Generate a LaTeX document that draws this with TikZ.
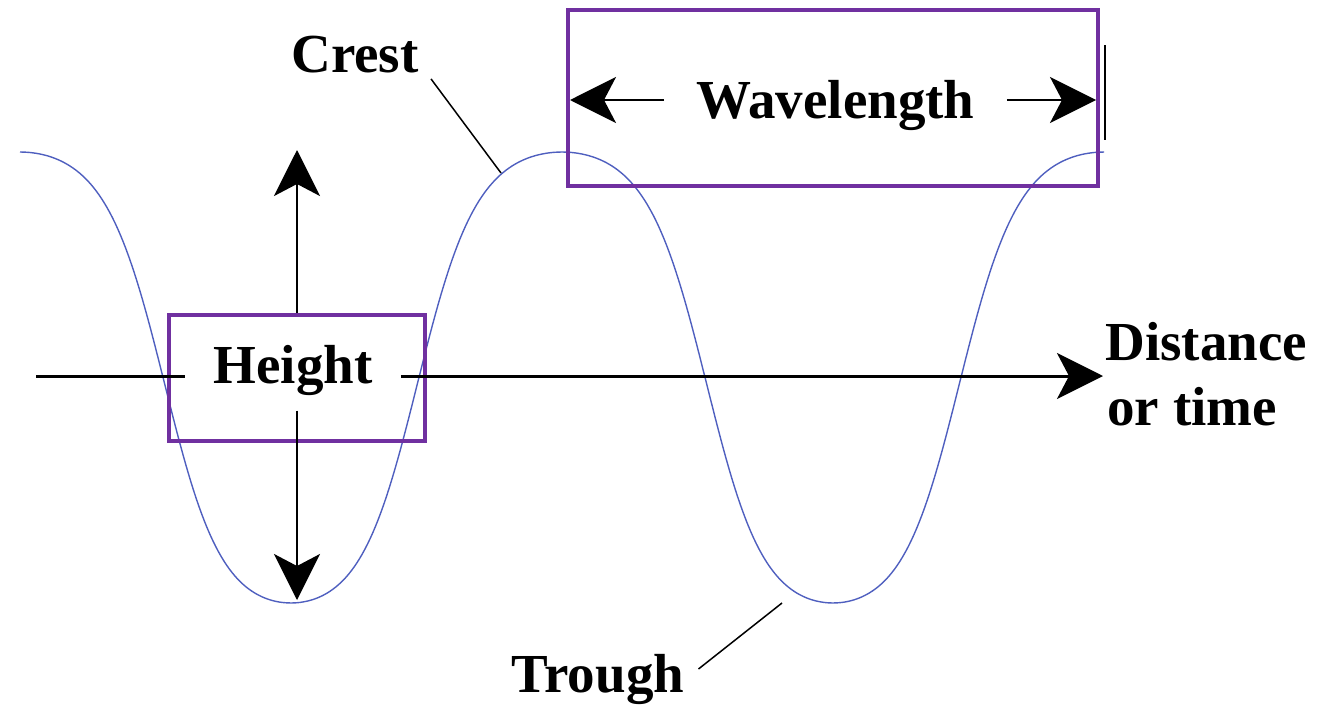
\documentclass[tikz,border=0pt]{standalone}
\usepackage{fontspec}
\setmainfont{Liberation Serif}
\usetikzlibrary{positioning,arrows.meta}
\definecolor{boxpurple}{HTML}{7030A0}
\definecolor{waveblue}{HTML}{4F5FBF}

\begin{document}
\begin{tikzpicture}[x=0.5pt,y=-0.5pt,
    lbl/.style={font=\fontsize{27.5}{32.5}\selectfont\bfseries,inner sep=0pt},
    labelbox/.style={draw=boxpurple,line width=2pt},
    bigarrow/.style={-{Stealth[length=23pt,width=23pt,inset=6pt]}},
    leader/.style={line width=0.75pt},
    declare function={wavey(\t)=377.5-225.5*tanh(1.3*(cos(\t)+0.088*sin(\t)*sin(\t)))/tanh(1.3);}]
  \useasboundingbox (0,0) rectangle (1318,707);
  % the wave
  \draw[waveblue,line width=0.7pt] plot[domain=20:1104,samples=400] (\x,{wavey((\x-562)/542*360)});
  % height box and arrows
  \node[labelbox,minimum width=128pt,minimum height=63pt] (heightbox) at (297,378) {};
  \node[lbl,anchor=base,inner xsep=14pt,inner ysep=7.5pt] (height) at (293,383) {Height};
  \coordinate (heighttop) at (297,150);
  \coordinate (heightbot) at (297,600);
  \draw[bigarrow,line width=1.2pt] (heightbox.north) -- (heighttop);
  \draw[bigarrow,line width=1.2pt] (height.south -| heightbox.center) -- (heightbot);
  % axis
  \coordinate (axisstart) at (36,376);
  \coordinate (axisend) at (1103,376);
  \draw[line width=1.5pt] (axisstart) -- (axisstart -| height.west);
  \draw[bigarrow,line width=1.5pt] (axisstart -| height.east) -- (axisend);
  \node[lbl,anchor=base west] (distance) at (1105,360) {Distance};
  \node[lbl,anchor=base west] (ortime) at ([xshift=1pt,yshift=-32.5pt]distance.base west) {or time};
  % wavelength box and arrows
  \node[labelbox,minimum width=265pt,minimum height=88pt] (wavebox) at (832.5,97.5) {};
  \node[lbl,anchor=base,inner xsep=16pt] (wavelength) at (835.5,118) {Wavelength};
  \coordinate (wlleft) at (570,100);
  \coordinate (wlright) at (1096,100);
  \draw[bigarrow,line width=1pt] (wlleft -| wavelength.west) -- (wlleft);
  \draw[bigarrow,line width=1pt] (wlright -| wavelength.east) -- (wlright);
  \draw[line width=1pt] (1105,45) -- (1105,140);
  % crest and trough labels
  \node[lbl,anchor=base] (crest) at (355,72) {Crest};
  \coordinate (crestpt) at (501,173);
  \draw[leader] ([xshift=6pt,yshift=-3pt]crest.south east) -- (crestpt);
  \node[lbl,anchor=base] (trough) at (598,692) {Trough};
  \coordinate (troughpt) at (782,603);
  \draw[leader] ([xshift=7pt,yshift=5pt]trough.east) -- (troughpt);
\end{tikzpicture}
\end{document}
